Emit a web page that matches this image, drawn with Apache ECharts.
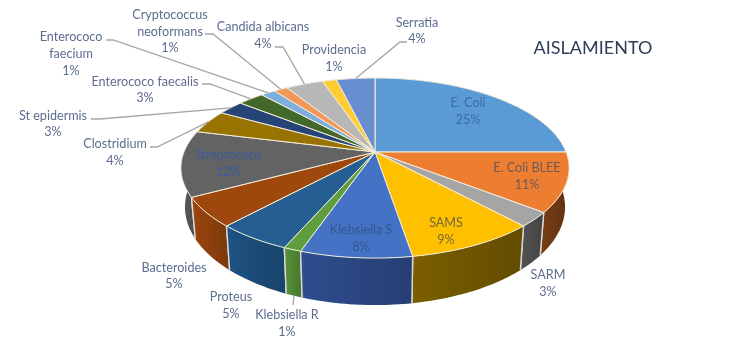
<!DOCTYPE html>
<html><head><meta charset="utf-8">
<style>html,body{margin:0;padding:0;background:#fff}#c{width:750px;height:345px}</style>
<script src="https://cdn.jsdelivr.net/npm/echarts@6/dist/echarts.min.js"></script>
</head><body><div id="c"></div>
<script>
const titleText = 'AISLAMIENTO';
const categories = ['E. Coli','E. Coli BLEE','SARM','SAMS','Klebsiella S','Klebsiella R','Proteus','Bacteroides','Streptococo','Clostridium','St epidermis','Enterococo faecalis','Enterococo faecium','Cryptococcus neoformans','Candida albicans','Providencia','Serratia'];
const values = [25,10.6,2.6,9.2,7.85,1.25,5.3,5.3,11.8,4.2,2.6,2.6,1.45,1.35,3.7,1.4,3.8];
const topColors = ['#5b9bd5','#ed7d31','#a5a5a5','#ffc000','#4472c4','#5f9e3e','#255e91','#9e480e','#636363','#997300','#264478','#43682b','#7cafdd','#f1975a','#b7b7b7','#ffcd33','#698ed0'];
const wallColors = ['#36608a','#6b3813','#4a4a4a','#6e5400','#2a4580','#4f8232','#1b4a76','#8a3e0c','#505050','#6e5400','#1b3157','#2f4a1f','#5a80a0','#a86a40','#808080','#b89020','#4a6595'];
const labelText = ['E. Coli','E. Coli BLEE','SARM','SAMS','Klebsiella S','Klebsiella R','Proteus','Bacteroides','Streptococo','Clostridium','St epidermis','Enterococo faecalis','Enterococo\nfaecium','Cryptococcus\nneoformans','Candida albicans','Providencia','Serratia'];
const labelColors = ['#3b6aa6','#6f5a55','#5c6d8f','#77683a','#35568f','#5c6d8f','#5c6d8f','#5c6d8f','#3c5ba0','#5c6d8f','#5c6d8f','#5c6d8f','#5c6d8f','#5c6d8f','#5c6d8f','#5c6d8f','#5c6d8f'];
// label centres, then elbow of the leader (null: no leader)
const labelAt = [[468,111.5],[527,176.5],[548,283.5],[446,231.5],[361,238.5],[287,323.5],[231,305.5],[174,276],[228,163.5],[115,152.5],[53,124],[145,90],[71,54],[170,31.5],[263,35.5],[334,58.5],[417,31]];
const elbows = [null,null,null,null,null,[[293,305]],null,null,null,[[150,147],[157,147]],[[91,119],[100,119]],[[202,84],[210,84]],[[106,40],[113,40]],[[205,34],[213,34]],[[275,47],[283,47]],null,[[407,42],[400,42]]];

const apex = {x:375,y:152}, P = 0.178, R = 191, A = 87.2;
const bottom = {R:187, A:95, dy:37.5};
const total = values.reduce((a,b)=>a+b,0);
const starts = values.reduce((acc,v,i)=>{acc.push((i?acc[i-1]:0)+(i?values[i-1]:0));return acc;},[]);
function ang(p){return p/total*2*Math.PI;}
function topPt(t){const u=Math.sin(t),v=-Math.cos(t),d=1-P*v;return [apex.x+R*u/d, apex.y+A*v/d];}
function botPt(t){const u=Math.sin(t),v=-Math.cos(t),d=1-P*v;return [apex.x+bottom.R*u/d, apex.y+bottom.dy+bottom.A*v/d];}
function arc(fn,a,b){const n=Math.max(4,Math.ceil((b-a)/0.02)),o=[];for(let k=0;k<=n;k++)o.push(fn(a+(b-a)*k/n));return o;}
function shade(hex,f){const n=parseInt(hex.slice(1),16);const c=[n>>16,(n>>8)&255,n&255].map(x=>Math.max(0,Math.min(255,Math.round(x*f))));return 'rgb('+c.join(',')+')';}

const wallOrder = categories.map((_,i)=>i).sort((a,b)=>{
  const m=i=>-Math.cos(ang(starts[i]+values[i]/2)); return m(a)-m(b);});

function renderWall(params,api){
  const i=api.value(0), a=ang(starts[i]), b=ang(starts[i]+api.value(1));
  const t=arc(topPt,a,b), l=arc(botPt,a,b);
  const pts=t.concat(l.slice().reverse());
  const ch=[{type:'polygon',shape:{points:pts},silent:true,style:{fill:new echarts.graphic.LinearGradient(0,0,1,0,[{offset:0,color:shade(wallColors[i],1.12)},{offset:1,color:shade(wallColors[i],0.9)}])}}];
  [a,b].forEach(x=>{ if(-Math.cos(x)>0.1) ch.push({type:'line',silent:true,shape:{x1:topPt(x)[0],y1:topPt(x)[1],x2:botPt(x)[0],y2:botPt(x)[1]},style:{stroke:'#d9d9d9',lineWidth:1.4}}); });
  return {type:'group',children:ch};
}
function renderTop(params,api){
  const i=api.value(0), a=ang(starts[i]), b=ang(starts[i]+api.value(1));
  return {type:'polygon',silent:true,shape:{points:[[apex.x,apex.y]].concat(arc(topPt,a,b))},style:{fill:topColors[i],stroke:'#f4efdc',lineWidth:1,lineJoin:'round'}};
}
function renderLabel(params,api){
  const i=api.value(0), mid=ang(starts[i]+api.value(1)/2), ch=[];
  if(elbows[i]){
    const end = i===5 ? botPt(mid) : topPt(mid);
    ch.push({type:'polyline',silent:true,shape:{points:elbows[i].concat([end])},style:{stroke:'#a6a6a6',lineWidth:1.3,fill:null}});
  }
  const pct=Math.round(api.value(1)/total*100)+'%';
  ch.push({type:'text',silent:true,x:labelAt[i][0],y:labelAt[i][1],style:{text:labelText[i]+'\n'+pct,fill:labelColors[i],font:'12.6px Lato',lineHeight:16.7,align:'center',verticalAlign:'middle',textAlign:'center',textVerticalAlign:'middle'}});
  return {type:'group',children:ch};
}
const idx = categories.map((c,i)=>({name:c,value:[i,values[i]]}));
const chart = echarts.init(document.getElementById('c'),null,{renderer:'canvas'});
chart.setOption({
  animation:false,
  backgroundColor:'#fff',
  title:{text:titleText,left:588,top:34,textAlign:'center',textStyle:{fontFamily:'Lato',fontSize:18,fontWeight:'normal',color:'#2f3e58'}},
  tooltip:{show:false},
  series:[
    {type:'custom',coordinateSystem:'none',z:1,silent:true,renderItem:renderWall,data:wallOrder.map(i=>idx[i])},
    {type:'custom',coordinateSystem:'none',z:2,silent:true,renderItem:renderTop,data:idx},
    {type:'custom',coordinateSystem:'none',z:3,silent:true,renderItem:renderLabel,data:idx}
  ]
});
</script></body></html>
